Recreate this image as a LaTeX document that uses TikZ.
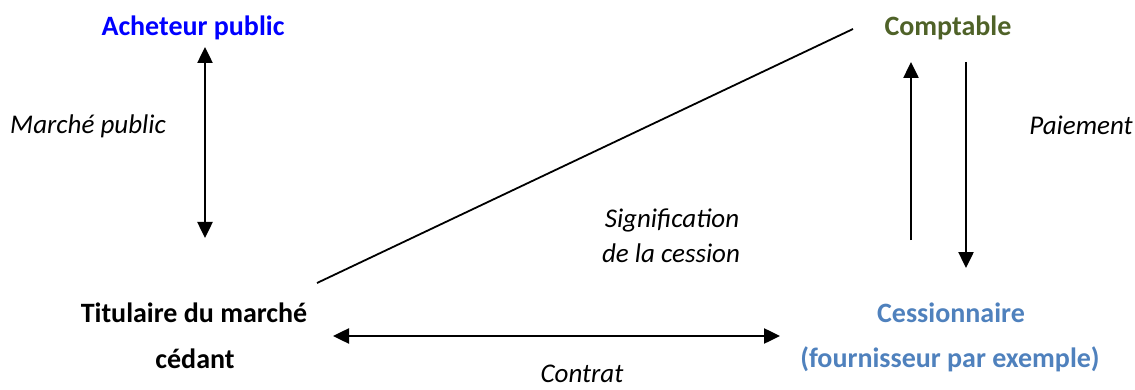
\documentclass[tikz,border=0pt]{standalone}
\usepackage{fontspec}
\setmainfont{Carlito}
\usetikzlibrary{arrows.meta}
\definecolor{buyer}{RGB}{0,0,255}
\definecolor{acct}{RGB}{79,98,40}
\definecolor{cess}{RGB}{79,129,189}
\begin{document}
\begin{tikzpicture}[x=1pt,y=-1pt,
  party/.style={font=\fontsize{28}{33}\selectfont\bfseries, inner sep=0pt, anchor=center},
  lbl/.style={font=\fontsize{27}{32}\selectfont\itshape, inner sep=0pt, anchor=center},
  arr/.style={line width=2.5pt, -{Triangle[width=15pt,length=16pt]}},
  darr/.style={line width=2.5pt, {Triangle[width=15pt,length=16pt]}-{Triangle[width=15pt,length=16pt]}},
  thin/.style={line width=1.8pt}]
\useasboundingbox (0,0) rectangle (1135,390);
\node[party, text=buyer] (buyer) at (193,28) {Acheteur public};
\node[party, text=acct] (acct) at (948,28) {Comptable};
\node[party] (tit) at (194,313) {Titulaire du marché};
\node[party] (ced) at (195,359) {cédant};
\node[party, text=cess] (cess) at (951,313) {Cessionnaire};
\node[party, text=cess] (four) at (950,359) {(fournisseur par exemple)};
\node[lbl] (mp) at (88,126) {Marché public};
\node[lbl] (pai) at (1081,125) {Paiement};
\node[lbl] (sig) at (672,220) {Signification};
\node[lbl] (ces) at (671,253) {de la cession};
\node[lbl] (con) at (582,374) {Contrat};
\coordinate (v1) at (205,47);
\coordinate (v2) at (205,238);
\coordinate (d1) at (317,283);
\coordinate (d2) at (853,29);
\coordinate (u1) at (911,240);
\coordinate (u2) at (911,62);
\coordinate (w1) at (966,62);
\coordinate (w2) at (966,268);
\coordinate (h1) at (333,336);
\coordinate (h2) at (780,336);
\draw[darr] (v1) -- (v2);
\draw[thin] (d1) -- (d2);
\draw[arr] (u1) -- (u2);
\draw[arr] (w1) -- (w2);
\draw[darr] (h1) -- (h2);
\end{tikzpicture}
\end{document}
